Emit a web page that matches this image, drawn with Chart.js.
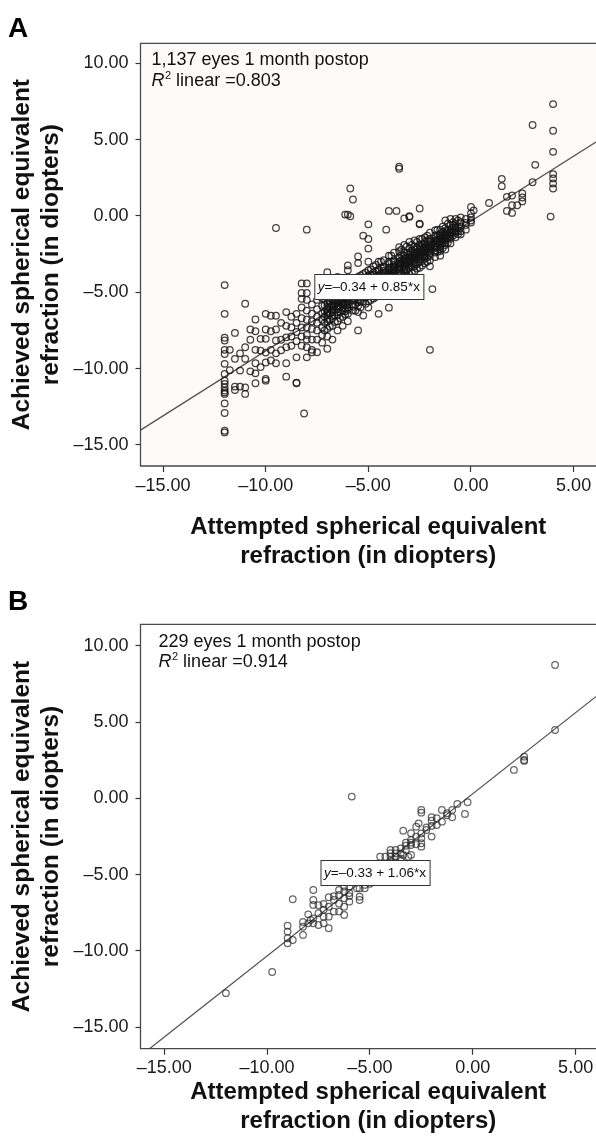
<!DOCTYPE html>
<html>
<head>
<meta charset="utf-8">
<script src="https://cdn.jsdelivr.net/npm/chart.js@4.4.1/dist/chart.umd.min.js"></script>
<style>
  html, body { margin: 0; padding: 0; background: #fff; }
  #wrap { position: relative; width: 596px; height: 1136px; overflow: hidden; }
  canvas { position: absolute; left: 0; }
  #chart-a { top: 0; }
  #chart-b { top: 580px; }
</style>
</head>
<body>
<div id="wrap">
  <canvas id="chart-a" width="596" height="580"></canvas>
  <canvas id="chart-b" width="596" height="556"></canvas>
</div>
<script>
// ticks shared by both panels
const xTickValues = [-15, -10, -5, 0, 5];
const xTickLabels = ['–15.00', '–10.00', '–5.00', '0.00', '5.00'];
const yTickValues = [-15, -10, -5, 0, 5, 10];
const yTickLabels = ['–15.00', '–10.00', '–5.00', '0.00', '5.00', '10.00'];

const xTitle = ['Attempted spherical equivalent', 'refraction (in diopters)'];
const yTitle = ['Achieved spherical equivalent', 'refraction (in diopters)'];

// panel A: attempted value -> achieved values read at that attempted value
const attemptedA = [4, 3.88, 3.13, 3, 2.5, 2.25, 2, 1.75, 1.5, 0.88, 0.13, 0, -0.25, -0.5, -0.75,
  -1, -1.25, -1.5, -1.75, -1.88, -2, -2.25, -2.5, -2.75, -3, -3.25, -3.5, -3.63, -3.75, -4, -4.13,
  -4.25, -4.5, -4.75, -5, -5.25, -5.5, -5.75, -5.88, -6, -6.13, -6.25, -6.5, -6.75, -7, -7.25, -7.5,
  -7.75, -8, -8.13, -8.25, -8.5, -8.75, -9, -9.25, -9.5, -9.75, -10, -10.25, -10.5, -10.75, -11,
  -11.25, -11.5, -11.75, -12,
  // dense band, in-between steps
  -0.63, -0.88, -1.13, -1.38, -1.63, -2.13, -2.38, -2.63, -2.88, -3.13, -3.38, -3.88, -4.38, -4.63,
  -4.88, -5.13, -5.38, -5.63, -6.13, -6.38, -6.63, -6.88, -7.13,
  // band core (overlapping eyes)
  -1, -1.25, -1.5, -1.75, -2, -2.25, -2.5, -2.75, -3, -3.25, -3.5, -3.75, -4, -4.25, -4.5, -4.75,
  -5, -5.25, -5.5, -5.75, -6, -6.25, -6.5, -6.75, -7];
const achievedA = [
  [7.33, 5.58, 4.2, 2.74, 2.46, 2.13, 1.8],
  [-0.04],
  [3.35],
  [5.96, 2.21],
  [1.47, 1.21, 0.95],
  [0.7],
  [1.34, 0.7, 0.2],
  [1.25, 0.33],
  [2.43, 1.95],
  [0.85],
  [0.37],
  [0.59, 0.16, -0.43, -0.1, -0.3],
  [-0.2, -0.6, -0.9, -0.45],
  [-0.1, -0.4, -0.7, -1.0, -1.2],
  [-0.2, -0.5, -0.8, -1.1, -1.4, -1.0, -0.73],
  [-0.2, -0.6, -0.9, -1.2, -1.5, -1.8, -1.1],
  [-0.3, -0.8, -1.0, -1.3, -1.6, -1.9, -2.2, -1.4],
  [-0.9, -1.2, -1.5, -1.7, -2.0, -2.3, -1.4, -2.6],
  [-0.94, -1.3, -1.6, -1.9, -2.1, -2.4, -2.7, -1.8],
  [-4.79],
  [-1.1, -1.5, -1.8, -2.0, -2.3, -2.6, -2.9, -3.3, -1.7, -2.2, -8.77],
  [-1.4, -1.7, -2.0, -2.3, -2.5, -2.8, -3.1, -2.2],
  [0.49, -0.5, -0.55, -1.5, -1.9, -2.2, -2.5, -2.8, -3.0, -3.4, -2.4, -2.6],
  [-1.6, -2.0, -2.4, -2.7, -3.0, -3.3, -3.6, -2.6],
  [-0.02, -0.06, -1.7, -2.1, -2.5, -2.8, -3.1, -3.4, -3.8, -2.9, -3.0, -4.2],
  [-0.17, -1.9, -2.4, -2.8, -3.1, -3.4, -3.7, -4.0, -3.0],
  [3.22, 3.09, -2.04, -2.3, -2.7, -3.0, -3.3, -3.6, -3.9, -4.3, -3.2, -3.5],
  [0.33],
  [-2.4, -2.9, -3.2, -3.5, -3.8, -4.1, -4.5, -3.4],
  [0.33, -2.6, -3.0, -3.4, -3.7, -4.0, -4.3, -4.7, -5.0, -3.8, -6.01],
  [-0.9],
  [-2.9, -3.3, -3.6, -3.9, -4.2, -4.5, -4.9, -4.0],
  [-3.0, -3.5, -3.9, -4.2, -4.5, -4.8, -5.2, -6.41, -4.1],
  [-3.3, -3.7, -4.1, -4.4, -4.7, -5.0, -5.4, -4.3],
  [-0.55, -1.51, -2.14, -3.0, -3.56, -3.9, -4.3, -4.6, -4.9, -5.2, -5.6, -6.0, -4.5],
  [-1.29, -3.8, -4.2, -4.6, -4.9, -5.2, -5.6, -6.52, -4.8],
  [-2.65, -3.09, -4.0, -4.5, -4.9, -5.2, -5.5, -5.9, -6.3, -7.5, -5.0],
  [1.08, -4.2, -4.7, -5.1, -5.4, -5.8, -6.2, -5.2],
  [1.8, -0.02],
  [0.09, -3.24, -3.56, -4.4, -4.9, -5.3, -5.6, -6.0, -6.4, -6.9, -5.5],
  [0.09, -4.5, -5.0, -5.35, -5.7, -6.05, -6.45],
  [-4.6, -5.1, -5.5, -5.8, -6.2, -6.6, -7.2, -5.7],
  [-4.0, -4.8, -5.3, -5.7, -6.1, -6.5, -6.9, -7.5, -5.9],
  [-5.0, -5.5, -5.9, -6.3, -6.7, -7.2, -8.1, -6.0],
  [-3.68, -5.2, -5.7, -6.1, -6.5, -6.9, -7.4, -7.9, -8.7, -6.3],
  [-5.4, -5.9, -6.4, -6.8, -7.3, -7.8, -8.3],
  [-5.5, -6.1, -6.6, -7.0, -7.5, -8.1, -8.93],
  [-5.8, -6.4, -6.9, -7.4, -8.1, -8.77, -8.93],
  [-0.9, -4.42, -5.05, -5.5, -6.2, -6.8, -7.3, -7.8, -8.1, -8.6, -9.26],
  [-12.94],
  [-4.42, -5.05, -5.43, -6.0, -6.7, -7.3, -7.9, -8.5],
  [-6.41, -7.0, -7.6, -8.2, -9.26, -10.92, -10.96],
  [-6.6, -7.3, -7.9, -8.5],
  [-6.3, -7.2, -7.95, -8.6, -9.65, -10.53],
  [-7.0, -8.11, -8.8],
  [-0.79, -6.54, -7.44, -8.16, -9.65, -9.0],
  [-6.54, -7.55, -8.77, -9.47],
  [-6.41, -7.44, -8.05, -8.95, -10.68, -10.79, -9.6],
  [-8.82, -8.05, -9.9],
  [-6.78, -7.55, -8.77, -9.65, -10.31, -10.96],
  [-7.44, -8.11, -10.18],
  [-5.75, -8.6, -9.36, -11.23, -11.66],
  [-10.13, -11.18, -9.0],
  [-7.66, -9.36, -11.4, -11.18],
  [-8.77, -10.1],
  [-4.53, -6.41, -7.98, -8.16, -8.77, -9.04, -9.69, -10.35, -10.79, -11.0, -11.23, -11.44, -11.56,
    -11.66, -12.28, -12.91, -14.07, -14.18],
  // dense band, in-between steps
  [-0.3, -0.7, -0.95, -1.2],
  [-0.4, -0.75, -1.05, -1.3, -0.6],
  [-0.5, -0.9, -1.15, -1.45, -1.75, -1.25],
  [-0.7, -1.05, -1.3, -1.55, -1.8, -2.1, -1.45],
  [-0.9, -1.25, -1.55, -1.8, -2.05, -2.35, -1.65],
  [-1.3, -1.6, -1.9, -2.15, -2.4, -2.7, -3.0, -2.05],
  [-1.5, -1.85, -2.1, -2.4, -2.65, -2.95, -3.25, -2.3],
  [-1.7, -2.05, -2.35, -2.6, -2.85, -3.15, -3.45, -2.5],
  [-1.9, -2.25, -2.55, -2.8, -3.1, -3.35, -3.7, -2.7],
  [-2.0, -2.4, -2.7, -2.95, -3.25, -3.55, -3.9, -3.0],
  [-2.2, -2.55, -2.9, -3.2, -3.45, -3.75, -4.1, -3.1],
  [-2.6, -3.0, -3.35, -3.65, -3.95, -4.25, -4.6, -3.5],
  [-3.0, -3.4, -3.75, -4.05, -4.35, -4.65, -5.0, -3.9],
  [-3.2, -3.6, -3.95, -4.25, -4.55, -4.9, -5.3, -4.2],
  [-3.5, -3.85, -4.2, -4.5, -4.8, -5.1, -5.5, -4.4],
  [-3.7, -4.05, -4.4, -4.7, -5.0, -5.35, -5.75, -4.6],
  [-3.9, -4.3, -4.65, -4.95, -5.25, -5.6, -6.0, -4.8],
  [-4.1, -4.5, -4.85, -5.15, -5.45, -5.8, -6.2, -5.0],
  [-4.3, -4.75, -5.1, -5.45, -5.85, -6.25],
  [-4.8, -5.2, -5.6, -5.95, -6.3, -6.7, -5.4],
  [-5.0, -5.45, -5.8, -6.15, -6.5, -6.95, -5.6],
  [-5.2, -5.6, -6.0, -6.4, -6.8, -7.25, -5.8],
  [-5.4, -5.85, -6.25, -6.6, -7.0, -7.5],
  // band core (overlapping eyes)
  [-1.05, -1.35],
  [-1.15, -1.5, -1.75],
  [-1.3, -1.6, -1.85, -2.15],
  [-1.45, -1.7, -2.0, -2.25],
  [-1.65, -1.9, -2.1, -2.45],
  [-1.85, -2.1, -2.4, -2.65],
  [-2.0, -2.3, -2.55, -2.7],
  [-2.2, -2.5, -2.8, -3.1],
  [-2.4, -2.7, -2.95, -3.25],
  [-2.6, -2.9, -3.25, -3.5],
  [-2.8, -3.1, -3.4, -3.75],
  [-3.0, -3.3, -3.6, -3.95],
  [-3.15, -3.5, -3.85, -4.15],
  [-3.4, -3.75, -4.05, -4.35],
  [-3.6, -3.95, -4.3, -4.6],
  [-3.85, -4.2, -4.55, -4.85],
  [-4.1, -4.4, -4.75, -5.05],
  [-4.3, -4.65, -5.0, -5.35],
  [-4.6, -4.95, -5.3, -5.65],
  [-4.85, -5.25, -5.55, -5.95],
  [-5.1, -5.45, -5.8, -6.15],
  [-5.3, -5.65, -6.0],
  [-5.55, -5.95, -6.3],
  [-5.75, -6.15, -6.55],
  [-5.95, -6.35, -6.75],
];
// fit line of panel A, ends at the plot edges
const fitAx = [-16.1, 6.09];
const fitAy = [-14.03, 4.84];

// panel B
const attemptedB = [4, 2.5, 2, -0.25, -0.38, -0.75, -1, -1.25, -1.5, -1.75, -2, -2.25, -2.5, -2.63,
  -2.75, -3, -3.13, -3.25, -3.38, -3.5, -3.75, -4, -4.25, -4.5, -4.75, -5, -5.25, -5.5, -5.63, -5.88,
  -6, -6.25, -6.5, -6.75, -7, -7.25, -7.5, -7.75, -7.88, -8, -8.25, -8.75, -9, -9.75, -12];
const achievedB = [
  [8.75, 4.49],
  [2.74, 2.52, 2.46],
  [1.87],
  [-0.25],
  [-1.02],
  [-0.36],
  [-0.75, -1.23],
  [-0.97, -1.1],
  [-0.75, -1.52],
  [-1.74, -1.3],
  [-1.23, -1.46, -2.5, -1.8],
  [-2.07, -1.9],
  [-0.75, -0.93, -2.61, -2.94, -3.16, -2.3],
  [-1.63],
  [-1.85, -2.5, -3.0],
  [-2.28, -2.72, -3.05, -3.7, -2.9],
  [-3.82],
  [-3.38, -2.9, -3.1],
  [-2.11, -3.7],
  [-3.27, -3.6, -3.95, -4.1],
  [-3.38, -3.82, -4.2, -3.6],
  [-3.38, -3.82, -3.59, -4.1, -4.4],
  [-3.82, -4.3, -4.6],
  [-3.82, -4.4, -4.8, -5.0],
  [-4.5, -4.9, -5.2],
  [-4.6, -5.0, -5.3, -5.6],
  [-5.67, -5.89, -5.1],
  [-6.44, -6.66, -5.4, -5.9],
  [-5.89],
  [0.12],
  [-5.78, -6.77, -6.2, -6.4],
  [-5.78, -6.55, -7.1, -7.64, -6.1],
  [-6.0, -6.33, -7.42, -6.9],
  [-6.66, -7.42, -6.4],
  [-6.48, -7.75, -8.51, -7.1],
  [-6.92, -7.75, -8.19, -7.3],
  [-7.53, -8.3, -7.0],
  [-6.0, -6.66, -6.98, -7.86, -8.19],
  [-7.97],
  [-8.19, -7.6],
  [-8.41, -8.95, -8.1],
  [-6.61, -9.28],
  [-8.34, -8.73, -9.17, -9.5],
  [-11.38],
  [-12.77],
];
const fitBx = [-15.7, 6.0];
const fitBy = [-16.4, 6.69];

const FONT = '"Liberation Sans", Arial, Helvetica, sans-serif';

const toPoints = (xs, groups) => xs.flatMap((x, i) => groups[i].map((y) => ({ x, y })));

const decorPlugin = {
  id: 'decor',
  beforeDatasetsDraw(chart, args, opts) {
    const { ctx, chartArea: a } = chart;
    ctx.save();
    ctx.fillStyle = opts.plotFill;
    ctx.fillRect(a.left, a.top, a.right - a.left, a.bottom - a.top);
    ctx.restore();
  },
  afterDatasetsDraw(chart, args, opts) {
    const { ctx, chartArea: a } = chart;
    ctx.save();

    // frame (right side runs off the picture)
    ctx.strokeStyle = '#4a4a4a';
    ctx.lineWidth = 1.3;
    ctx.beginPath();
    ctx.moveTo(a.right + 2, a.top);
    ctx.lineTo(a.left, a.top);
    ctx.lineTo(a.left, a.bottom);
    ctx.lineTo(a.right + 2, a.bottom);
    ctx.stroke();

    // panel letter
    ctx.fillStyle = '#000';
    ctx.textBaseline = 'alphabetic';
    ctx.textAlign = 'left';
    ctx.font = `bold 28px ${FONT}`;
    ctx.fillText(opts.letter, 8, opts.letterY);

    // sample size and R squared
    const tx = a.left + opts.noteDx;
    let ty = a.top + opts.noteDy;
    ctx.fillStyle = '#111';
    ctx.font = `18px ${FONT}`;
    ctx.fillText(opts.note, tx, ty);
    ty += 20.5;
    ctx.font = `italic 18px ${FONT}`;
    ctx.fillText('R', tx, ty);
    let cx = tx + ctx.measureText('R').width + 0.5;
    ctx.font = `11px ${FONT}`;
    ctx.fillText('2', cx, ty - 7);
    cx += ctx.measureText('2').width;
    ctx.font = `18px ${FONT}`;
    ctx.fillText(' linear =' + opts.r2, cx, ty);

    // equation label
    const bx = a.left + opts.eqDx;
    const by = a.top + opts.eqDy;
    ctx.font = `italic 13.5px ${FONT}`;
    const wy = ctx.measureText('y').width;
    ctx.font = `13.5px ${FONT}`;
    const rest = opts.eq;
    const wr = ctx.measureText(rest).width;
    const bw = wy + wr + 7;
    const bh = 25;
    ctx.fillStyle = '#fff';
    ctx.fillRect(bx, by, bw, bh);
    ctx.strokeStyle = '#333';
    ctx.lineWidth = 1;
    ctx.strokeRect(bx + 0.5, by + 0.5, bw, bh);
    ctx.fillStyle = '#111';
    ctx.textBaseline = 'middle';
    ctx.font = `italic 13.5px ${FONT}`;
    ctx.fillText('y', bx + 3.5, by + bh / 2 + 1);
    ctx.font = `13.5px ${FONT}`;
    ctx.fillText(rest, bx + 3.5 + wy, by + bh / 2 + 1);

    ctx.restore();
  },
};

const makeChart = (canvas, cfg) => new Chart(canvas, {
  type: 'scatter',
  data: {
    datasets: [
      {
        data: cfg.points,
        pointRadius: 3.3,
        pointBorderWidth: 1.25,
        pointBorderColor: cfg.pointColor,
        pointBackgroundColor: 'rgba(0,0,0,0)',
        order: 1,
      },
      {
        data: cfg.fit,
        showLine: true,
        borderColor: '#505050',
        borderWidth: 1.2,
        pointRadius: 0,
        order: 2,
      },
    ],
  },
  options: {
    responsive: false,
    animation: false,
    events: [],
    layout: { autoPadding: false, padding: { top: cfg.padTop, right: 0, bottom: 0, left: 0 } },
    plugins: {
      legend: { display: false },
      tooltip: { enabled: false },
      decor: cfg.decor,
    },
    scales: {
      x: {
        type: 'linear',
        min: cfg.xMin,
        max: cfg.xMax,
        afterBuildTicks: (scale) => { scale.ticks = xTickValues.map((value) => ({ value })); },
        afterFit: (scale) => {
          scale.height = cfg.xAxisHeight;
          scale.paddingLeft = 0;
          scale.paddingRight = 0;
        },
        ticks: {
          callback: (value, index) => xTickLabels[index],
          font: { family: FONT, size: 18 },
          color: '#1a1a1a',
          padding: 3,
          maxRotation: 0,
          autoSkip: false,
        },
        grid: { drawOnChartArea: false, tickLength: 6, tickColor: '#333', tickWidth: 1.2 },
        border: { display: false },
        title: {
          display: true,
          text: xTitle,
          color: '#111',
          font: { family: FONT, size: 24, weight: 'bold', lineHeight: 1.2 },
          padding: { top: 0, bottom: cfg.xTitlePad },
        },
      },
      y: {
        type: 'linear',
        min: cfg.yMin,
        max: cfg.yMax,
        afterBuildTicks: (scale) => { scale.ticks = yTickValues.map((value) => ({ value })); },
        afterFit: (scale) => {
          scale.width = 140.5;
          scale.paddingTop = 0;
          scale.paddingBottom = 0;
        },
        ticks: {
          callback: (value, index) => yTickLabels[index],
          font: { family: FONT, size: 18 },
          color: '#1a1a1a',
          padding: 7,
          autoSkip: false,
        },
        grid: { drawOnChartArea: false, tickLength: 5, tickColor: '#333', tickWidth: 1.2 },
        border: { display: false },
        title: {
          display: true,
          text: yTitle,
          color: '#111',
          font: { family: FONT, size: 24.5, weight: 'bold', lineHeight: 1.2 },
          padding: { top: 7.3, bottom: 0 },
        },
      },
    },
  },
  plugins: [decorPlugin],
});

makeChart(document.getElementById('chart-a'), {
  points: toPoints(attemptedA, achievedA),
  fit: fitAx.map((x, i) => ({ x, y: fitAy[i] })),
  pointColor: 'rgba(20,20,20,0.8)',
  xMin: -16.1, xMax: 6.09, yMin: -16.38, yMax: 11.31,
  padTop: 43.3, xAxisHeight: 114, xTitlePad: 9.6,
  decor: {
    plotFill: '#fdfafa', letter: 'A', letterY: 37,
    note: '1,137 eyes 1 month postop', r2: '0.803', noteDx: 11, noteDy: 21.7,
    eq: '=–0.34 + 0.85*x', eqDx: 173.8, eqDy: 230.7,
  },
});

makeChart(document.getElementById('chart-b'), {
  points: toPoints(attemptedB, achievedB),
  fit: fitBx.map((x, i) => ({ x, y: fitBy[i] })),
  pointColor: 'rgba(45,45,45,0.72)',
  xMin: -16.15, xMax: 5.99, yMin: -16.41, yMax: 11.42,
  padTop: 44.3, xAxisHeight: 87.3, xTitlePad: 0,
  decor: {
    plotFill: '#ffffff', letter: 'B', letterY: 30,
    note: '229 eyes 1 month postop', r2: '0.914', noteDx: 18, noteDy: 22.4,
    eq: '=–0.33 + 1.06*x', eqDx: 180, eqDy: 235.7,
  },
});
</script>
</body>
</html>
